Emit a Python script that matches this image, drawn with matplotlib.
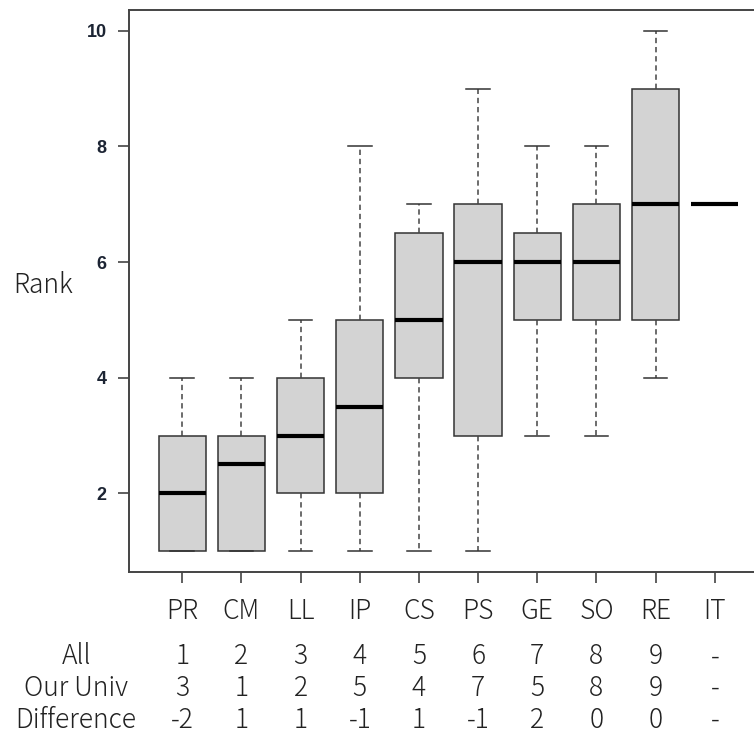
import matplotlib.pyplot as plt
from matplotlib import transforms

cats = ['PR', 'CM', 'LL', 'IP', 'CS', 'PS', 'GE', 'SO', 'RE', 'IT']
whislo = [1, 1, 1, 1, 1, 1, 3, 3, 4, 7]
q1 = [1, 1, 2, 2, 4, 3, 5, 5, 5, 7]
med = [2, 2.5, 3, 3.5, 5, 6, 6, 6, 7, 7]
q3 = [3, 3, 4, 5, 6.5, 7, 6.5, 7, 9, 7]
whishi = [4, 4, 5, 8, 7, 9, 8, 8, 10, 7]

row_names = ['All', 'Our Univ', 'Difference']
rank_all = ['1', '2', '3', '4', '5', '6', '7', '8', '9', '-']
rank_univ = ['3', '1', '2', '5', '4', '7', '5', '8', '9', '-']
rank_diff = ['-2', '1', '1', '-1', '1', '-1', '2', '0', '0', '-']

txt_font = ['Noto Sans CJK JP', 'DejaVu Sans']
txt = dict(fontsize=19, family=txt_font, fontweight='light', color='#222222')

fig = plt.figure(figsize=(7.54, 7.40), dpi=100)
ax = fig.add_axes([0.1711, 0.227, 0.8475, 0.7595])

stats = []
for i in range(len(cats)):
    stats.append(dict(whislo=whislo[i], q1=q1[i], med=med[i], q3=q3[i],
                      whishi=whishi[i], fliers=[]))

ax.bxp(stats, positions=range(1, len(cats) + 1), widths=0.8,
       patch_artist=True, showfliers=False,
       boxprops=dict(facecolor='#d3d3d3', edgecolor='#333333', linewidth=1.1),
       medianprops=dict(color='black', linewidth=3, solid_capstyle='butt'),
       whiskerprops=dict(color='#444444', linewidth=1.1, linestyle=(0, (3.5, 2.5))),
       capprops=dict(color='#333333', linewidth=1.1), capwidths=0.4)

ax.set_xlim(0.1, 10.9)
ax.set_ylim(0.64, 10.36)
ax.set_yticks([2, 4, 6, 8, 10])
ax.set_yticklabels(['2', '4', '6', '8', '10'], fontsize=13, fontweight='bold',
                   family='Liberation Sans', color='#1c2433')
ax.set_xticks(range(1, len(cats) + 1))
ax.set_xticklabels(cats, **txt)
ax.tick_params(axis='y', length=8, width=1.2, color='#444444', pad=8)
ax.tick_params(axis='x', length=8, width=1.2, color='#444444', pad=10)
for s in ax.spines.values():
    s.set_color('#444444')
    s.set_linewidth(1.4)

fig.text(0.017, 0.615, 'Rank', va='center', ha='left', **txt)

tr = transforms.blended_transform_factory(ax.transData, fig.transFigure)
rows = [rank_all, rank_univ, rank_diff]
row_y = [0.113, 0.070, 0.027]
for name, vals, y in zip(row_names, rows, row_y):
    fig.text(0.101, y, name, ha='center', va='center', **txt)
    for i, v in enumerate(vals):
        ax.text(i + 1, y, v, transform=tr, ha='center', va='center', **txt)

fig.savefig('out.png', dpi=100)
